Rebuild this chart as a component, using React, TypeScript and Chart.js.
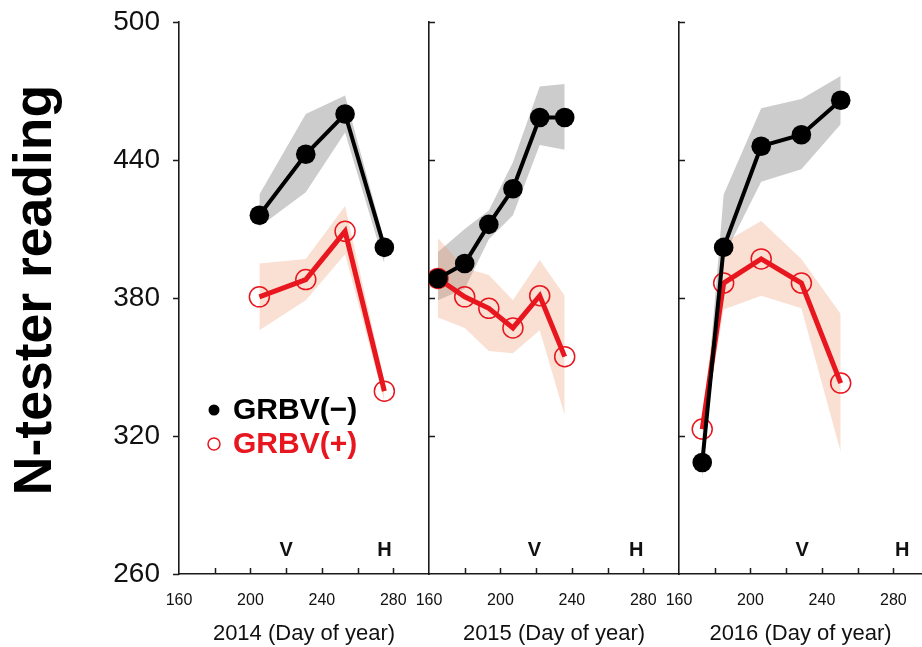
import React, { useEffect, useRef } from 'react';
import { Chart, registerables } from 'chart.js';

Chart.register(...registerables);

const FONT = '"Liberation Sans", Arial, Helvetica, sans-serif';
const RED = '#e8161e';
const BLACK = '#000000';
const GRAY_BAND = 'rgba(120,120,120,0.38)';
const PINK_BAND = 'rgba(240,150,110,0.30)';
const AXIS = '#1a1a1a';

// ---- data ----
const years = ['2014', '2015', '2016'];

const days2014 = [205, 231, 253, 275];
const neg2014 = [416, 442.5, 460, 402];
const negHi2014 = [425, 460, 468, 405];
const negLo2014 = [411, 426, 452, 395];
const pos2014 = [380.5, 388, 409, 339.5];
const posHi2014 = [395, 397, 420, 344];
const posLo2014 = [366, 379, 399, 335];

const days2015 = [165, 180, 193.5, 207, 222, 236];
const neg2015 = [388.5, 395, 412, 427.5, 458.5, 458.5];
const negHi2015 = [400, 410, 418, 439, 472, 473];
const negLo2015 = [379, 384, 405.5, 416, 446.5, 444.5];
const pos2015 = [388.5, 380.5, 375.5, 367, 381, 354.5];
const posHi2015 = [406, 393, 390, 379, 396.5, 381];
const posLo2015 = [371.5, 367, 357, 356, 366, 329];

const days2016 = [173, 185, 206, 228.5, 250.5];
const neg2016 = [308.5, 402, 446, 451, 466];
const negHi2016 = [313, 425, 462.5, 466.5, 476.5];
const negLo2016 = [301, 398, 430.5, 436, 455.5];
const pos2016 = [323, 386.5, 397, 386.5, 343];
const posHi2016 = [329, 404, 413.5, 397, 373];
const posLo2016 = [318, 375, 381, 375.5, 313];

const vDays = [220, 219, 229];
const hDays = [275, 276, 285];

const yTickValues = [260, 320, 380, 440, 500];
const xTickValues = [160, 180, 200, 220, 240, 260, 280];
const xTickLabels = [160, 200, 240, 280];
const xMin = 160;
const xMaxes = [300, 300, 296];
const yMin = 260;
const yMax = 500;
const legendLabels = ['GRBV(\u2212)', 'GRBV(+)'];
const yTitle = 'N-tester reading';

const seriesByYear = [
  [days2014, neg2014, negHi2014, negLo2014, pos2014, posHi2014, posLo2014],
  [days2015, neg2015, negHi2015, negLo2015, pos2015, posHi2015, posLo2015],
  [days2016, neg2016, negHi2016, negLo2016, pos2016, posHi2016, posLo2016],
];

// ---- layout (pixels) ----
const W = 922;
const H = 647;
const panelLeft = [179, 429, 679];
const panelRight = [429, 679, 922];
const plotTop = 22;
const xAxisHeight = 73;

function pts(days: number[], vals: number[]) {
  return days.map((d, i) => ({ x: d, y: vals[i] }));
}

function makeDatasets(idx: number) {
  const [days, neg, negHi, negLo, pos, posHi, posLo] = seriesByYear[idx];
  const band = {
    borderWidth: 0,
    borderColor: 'rgba(0,0,0,0)',
    pointRadius: 0,
    tension: 0,
  };
  return [
    {
      label: legendLabels[0],
      data: pts(days, neg),
      borderColor: BLACK,
      backgroundColor: BLACK,
      borderWidth: 4,
      pointRadius: 9.8,
      pointBackgroundColor: BLACK,
      pointBorderColor: BLACK,
      pointBorderWidth: 0,
      fill: false,
      tension: 0,
      order: 0,
    },
    {
      label: legendLabels[1],
      data: pts(days, pos),
      borderColor: RED,
      backgroundColor: 'rgba(0,0,0,0)',
      borderWidth: 5,
      pointRadius: 10,
      pointBackgroundColor: 'rgba(0,0,0,0)',
      pointBorderColor: RED,
      pointBorderWidth: 1.5,
      fill: false,
      tension: 0,
      order: 1,
    },
    { ...band, label: 'negHi', data: pts(days, negHi), fill: false, order: 3 },
    { ...band, label: 'negLo', data: pts(days, negLo), fill: '-1', backgroundColor: GRAY_BAND, order: 3 },
    { ...band, label: 'posHi', data: pts(days, posHi), fill: false, order: 2 },
    { ...band, label: 'posLo', data: pts(days, posLo), fill: '-1', backgroundColor: PINK_BAND, order: 2 },
  ];
}

function decorPlugin(idx: number) {
  return {
    id: 'decor' + idx,
    afterDraw(chart: any) {
      const { ctx, chartArea } = chart;
      const x = chart.scales.x;
      const y = chart.scales.y;
      ctx.save();
      ctx.strokeStyle = AXIS;
      ctx.lineWidth = 1.5;
      ctx.beginPath();
      // inward x ticks
      x.ticks.forEach((t: any) => {
        if (t.value > x.min && t.value < x.max) {
          const px = Math.round(x.getPixelForValue(t.value)) + 0.5;
          ctx.moveTo(px, chartArea.bottom);
          ctx.lineTo(px, chartArea.bottom - 6);
        }
      });
      // y ticks
      y.ticks.forEach((t: any) => {
        const py = Math.round(y.getPixelForValue(t.value)) + 0.5;
        if (idx === 0) {
          ctx.moveTo(chartArea.left, py);
          ctx.lineTo(chartArea.left - 6, py);
        } else if (t.value > y.min) {
          ctx.moveTo(chartArea.left, py);
          ctx.lineTo(chartArea.left + 6, py);
        }
      });
      ctx.stroke();

      // V / H markers
      ctx.fillStyle = '#111';
      ctx.font = `bold 20px ${FONT}`;
      ctx.textAlign = 'center';
      ctx.textBaseline = 'middle';
      ctx.fillText('V', x.getPixelForValue(vDays[idx]), chartArea.bottom - 24);
      ctx.fillText('H', x.getPixelForValue(hDays[idx]), chartArea.bottom - 24);

      if (idx === 0) {
        // y axis title
        ctx.save();
        ctx.translate(36, (chartArea.top + chartArea.bottom) / 2 - 8);
        ctx.rotate(-Math.PI / 2);
        ctx.font = `bold 53.5px ${FONT}`;
        ctx.fillStyle = BLACK;
        ctx.textAlign = 'center';
        ctx.textBaseline = 'middle';
        ctx.fillText(yTitle, 0, 0);
        ctx.restore();

        // legend
        const dotX = chartArea.left + 35;
        const textX = chartArea.left + 54;
        const y1 = chartArea.top + 388;
        const y2 = chartArea.top + 422;
        ctx.fillStyle = BLACK;
        ctx.beginPath();
        ctx.arc(dotX, y1, 5.5, 0, Math.PI * 2);
        ctx.fill();
        ctx.strokeStyle = RED;
        ctx.lineWidth = 1.5;
        ctx.beginPath();
        ctx.arc(dotX, y2, 6, 0, Math.PI * 2);
        ctx.stroke();
        ctx.font = `bold 30px ${FONT}`;
        ctx.textAlign = 'left';
        ctx.textBaseline = 'middle';
        ctx.fillStyle = BLACK;
        ctx.fillText(legendLabels[0], textX, y1 + 1);
        ctx.fillStyle = RED;
        ctx.fillText(legendLabels[1], textX, y2 + 1);
      }
      ctx.restore();
    },
  };
}

function makeConfig(idx: number): any {
  const left = panelLeft[idx];
  const right = panelRight[idx];
  const isFirst = idx === 0;
  return {
    type: 'line',
    data: { datasets: makeDatasets(idx) },
    plugins: [decorPlugin(idx)],
    options: {
      animation: false,
      responsive: false,
      devicePixelRatio: 1,
      events: [],
      layout: {
        autoPadding: false,
        padding: {
          left: isFirst ? 0 : left,
          right: W - right,
          top: plotTop,
          bottom: 0,
        },
      },
      plugins: {
        legend: { display: false },
        tooltip: { enabled: false },
        title: { display: false },
      },
      scales: {
        x: {
          type: 'linear',
          position: 'bottom',
          min: xMin,
          max: xMaxes[idx],
          afterBuildTicks: (scale: any) => {
            scale.ticks = xTickValues.map((v) => ({ value: v }));
          },
          afterFit: (scale: any) => {
            scale.height = xAxisHeight;
            scale.paddingLeft = 0;
            scale.paddingRight = 0;
            scale.paddingTop = 0;
            scale.paddingBottom = 0;
          },
          grid: {
            drawOnChartArea: false,
            drawTicks: true,
            tickLength: 17,
            color: 'rgba(0,0,0,0)',
          },
          border: { display: true, color: AXIS, width: 1.6 },
          ticks: {
            autoSkip: false,
            maxRotation: 0,
            padding: 0,
            color: '#111',
            font: { family: FONT, size: 16 },
            callback: (v: any) => (xTickLabels.includes(Number(v)) ? String(v) : ''),
          },
          title: {
            display: true,
            text: `${years[idx]} (Day of year)`,
            color: '#111',
            font: { family: FONT, size: 22 },
            padding: { top: 0, bottom: 0 },
          },
        },
        y: {
          type: 'linear',
          position: 'left',
          min: yMin,
          max: yMax,
          afterBuildTicks: (scale: any) => {
            scale.ticks = yTickValues.map((v) => ({ value: v }));
          },
          afterFit: (scale: any) => {
            scale.width = isFirst ? left : 0;
            scale.paddingLeft = 0;
            scale.paddingRight = 0;
            scale.paddingTop = 0;
            scale.paddingBottom = 0;
          },
          grid: {
            drawOnChartArea: false,
            drawTicks: isFirst,
            tickLength: 19,
            color: 'rgba(0,0,0,0)',
          },
          border: { display: true, color: AXIS, width: 1.6 },
          ticks: {
            display: isFirst,
            padding: 0,
            color: '#111',
            font: { family: FONT, size: 28 },
          },
          title: { display: false },
        },
      },
    },
  };
}

export default function App() {
  const refs = [useRef<HTMLCanvasElement>(null), useRef<HTMLCanvasElement>(null), useRef<HTMLCanvasElement>(null)];

  useEffect(() => {
    const charts = refs.map((r, i) => new Chart(r.current as HTMLCanvasElement, makeConfig(i)));
    return () => charts.forEach((c) => c.destroy());
  }, []);

  return (
    <div style={{ position: 'absolute', left: 0, top: 0, width: W, height: H, background: '#fff', overflow: 'hidden' }}>
      {refs.map((r, i) => (
        <canvas
          key={i}
          ref={r}
          width={W}
          height={H}
          style={{ position: 'absolute', left: 0, top: 0, width: W, height: H }}
        />
      ))}
    </div>
  );
}
